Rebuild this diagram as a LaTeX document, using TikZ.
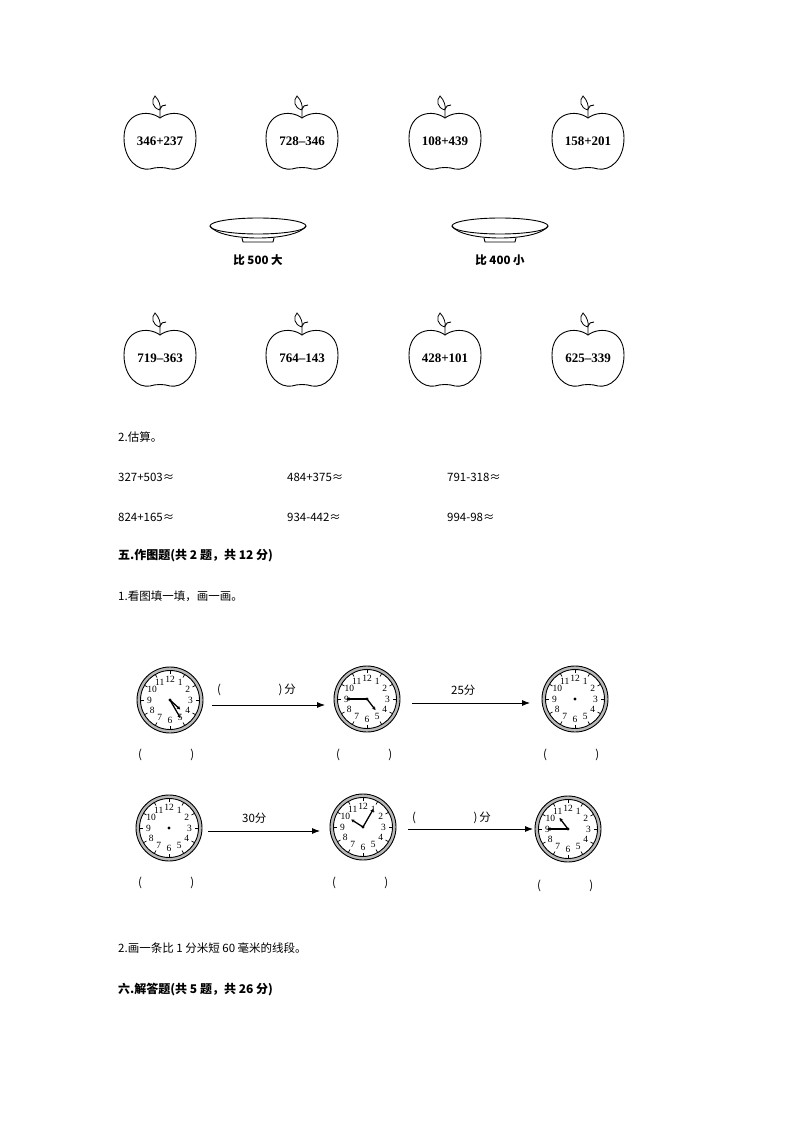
\documentclass[tikz,border=0pt]{standalone}
\usepackage{fontspec}
\setmainfont{Noto Sans CJK SC}
\newfontfamily\numfont{Liberation Serif}
\usetikzlibrary{arrows.meta}
\tikzset{
  txt/.style={anchor=west,inner sep=0pt,font=\fontsize{11.5}{13}\selectfont},
  bold/.style={txt,font=\fontsize{12}{13}\selectfont\bfseries},
  arr/.style={-{Latex[length=8pt,width=6pt]},line width=0.8pt},
  hand/.style={line width=1.3pt,-{Stealth[length=3.5pt,width=3.5pt]}},
  applebody/.style={line width=0.9pt},
  pics/apple/.style={code={
    \draw[applebody] (0,-22) .. controls (-12,-31) and (-36,-28) .. (-36,-2) .. controls (-36,20) and (-22,31) .. (-10,29) .. controls (-4,27) and (4,27) .. (10,29) .. controls (22,31) and (36,20) .. (36,-2) .. controls (36,-28) and (12,-31) .. cycle;
    \draw[line width=0.9pt] (0,-22) -- (0,-31) .. controls (1,-34) and (3,-35) .. (6,-35);
    \draw[line width=0.8pt] (0,-30) .. controls (-8,-32) and (-9,-40) .. (-5,-44) .. controls (-1,-40) and (1,-34) .. (0,-30);
    \node[font=\numfont\bfseries\fontsize{13}{14}\selectfont] at (0,1) {#1};
  }},
  pics/plate/.style={code={
    \draw[line width=0.9pt] (0,-4) ellipse (48 and 8);
    \draw[line width=0.9pt] (-48,-4) .. controls (-38,12) and (38,12) .. (48,-4);
    \draw[line width=0.9pt] (-16,8) -- (-15,12) -- (15,12) -- (16,8);
    \node[font=\fontsize{11.5}{13}\selectfont\bfseries] at (0,30) {#1};
  }},
}
\newcommand\myclock[3]{%
  \begin{scope}[shift={(#1)}]
    \fill[gray!55,even odd rule] (0,0) circle (33) (0,0) circle (29.5);
    \draw[line width=0.9pt] (0,0) circle (33);
    \draw[line width=0.9pt] (0,0) circle (29.5);
    \foreach \h in {1,...,12}{
      \draw[line width=0.7pt] (30*\h-90:26) -- (30*\h-90:29.5);
      \node[font=\numfont\fontsize{9.5}{10}\selectfont,inner sep=0pt] at (30*\h-90:20.5) {\h};
    }
    \ifx&#2&\else
      \draw[hand] (0,0) -- (#2*30-90:14);
      \draw[hand] (0,0) -- (#3*6-90:21);
    \fi
    \fill (0,0) circle (1.6);
  \end{scope}}
\begin{document}
\begin{tikzpicture}[x=1pt,y=-1pt]
\useasboundingbox[fill=white] (0,0) rectangle (794,1123);
\pic at (160,140) {apple={346+237}};
\pic at (302,140) {apple={728–346}};
\pic at (445,140) {apple={108+439}};
\pic at (588,140) {apple={158+201}};
\pic at (258,230) {plate={比 500 大}};
\pic at (500,230) {plate={比 400 小}};
\pic at (160,357) {apple={719–363}};
\pic at (302,357) {apple={764–143}};
\pic at (445,357) {apple={428+101}};
\pic at (588,357) {apple={625–339}};
\node[txt] (t1) at (118,437) {2.估算。};
\node[txt] (e1) at (118,477) {327+503≈};
\node[txt] (e2) at (287,477) {484+375≈};
\node[txt] (e3) at (447,477) {791-318≈};
\node[txt] (e4) at (118,517) {824+165≈};
\node[txt] (e5) at (287,517) {934-442≈};
\node[txt] (e6) at (447,517) {994-98≈};
\node[bold] (h5) at (118,556) {五.作图题(共 2 题，共 12 分)};
\node[txt] (q1) at (118,596) {1.看图填一填，画一画。};
\myclock{170,700}{4.42}{25}
\myclock{367,699}{4.75}{45}
\myclock{575,699}{}{}
\coordinate (a1s) at (212,705); \coordinate (a1e) at (325,705);
\draw[arr] (a1s) -- (a1e);
\coordinate (a2s) at (412,703); \coordinate (a2e) at (530,703);
\draw[arr] (a2s) -- (a2e);
\node[txt] (l1) at (217,690) {(\hspace{5em})\,分};
\node[txt] (l2) at (451,690) {25分};
\node[txt] (p1) at (138,755) {(\hspace{4.2em})};
\node[txt] (p2) at (336,755) {(\hspace{4.2em})};
\node[txt] (p3) at (543,755) {(\hspace{4.2em})};
\myclock{169,828}{}{}
\myclock{363,827}{10.08}{5}
\myclock{568,829}{10.75}{45}
\coordinate (b1s) at (208,831); \coordinate (b1e) at (320,831);
\draw[arr] (b1s) -- (b1e);
\coordinate (b2s) at (408,829); \coordinate (b2e) at (533,829);
\draw[arr] (b2s) -- (b2e);
\node[txt] (l3) at (242,818) {30分};
\node[txt] (l4) at (412,818) {(\hspace{5em})\,分};
\node[txt] (p4) at (138,883) {(\hspace{4.2em})};
\node[txt] (p5) at (332,883) {(\hspace{4.2em})};
\node[txt] (p6) at (537,886) {(\hspace{4.2em})};
\node[txt] (q2) at (118,948) {2.画一条比 1 分米短 60 毫米的线段。};
\node[bold] (h6) at (118,990) {六.解答题(共 5 题，共 26 分)};
\end{tikzpicture}
\end{document}
